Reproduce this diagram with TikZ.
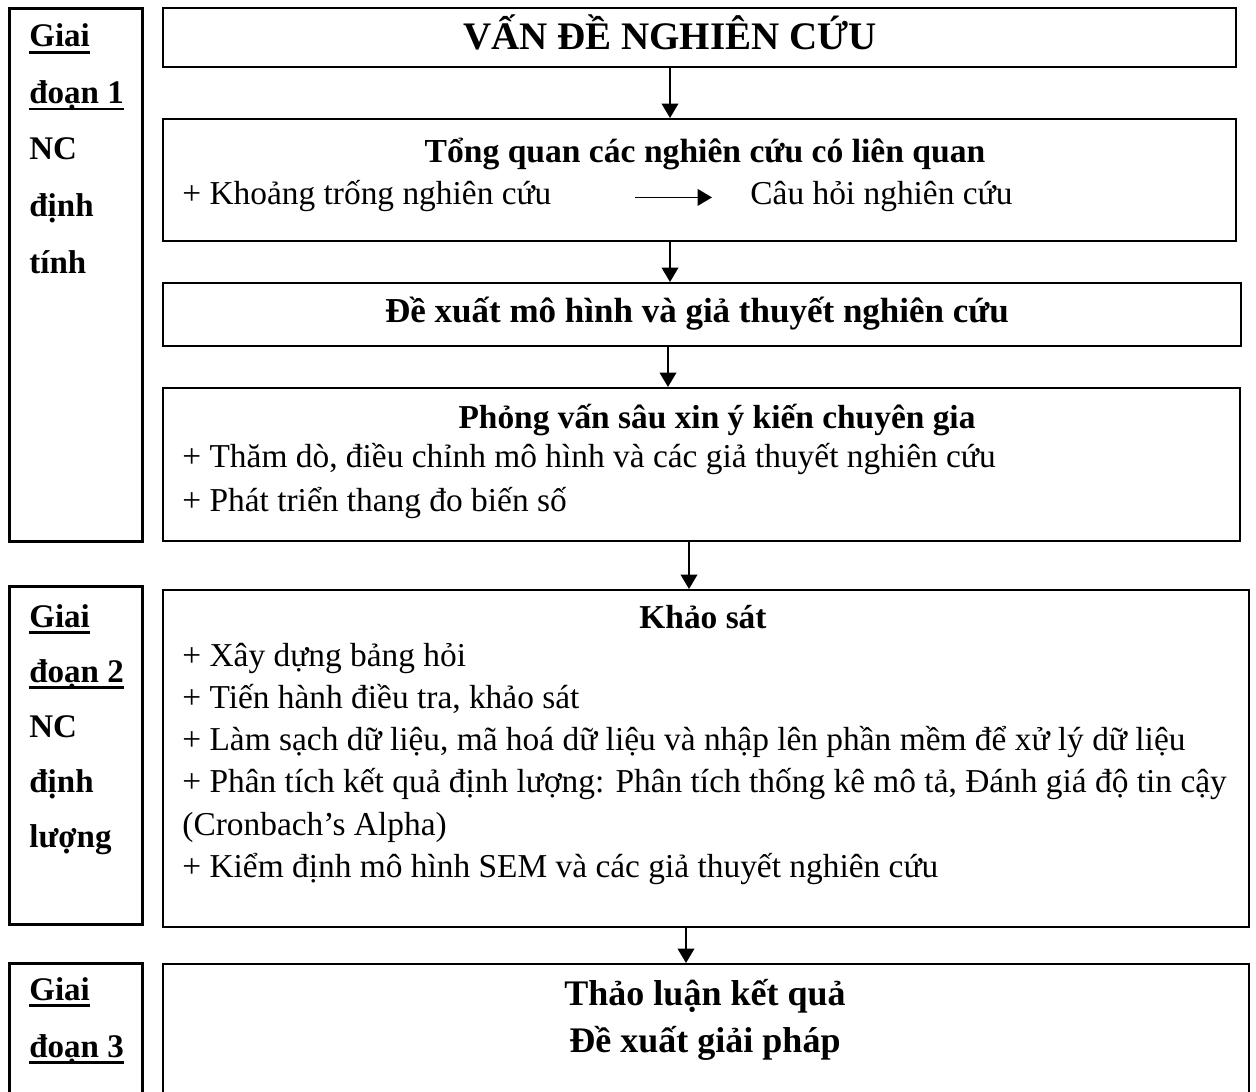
\documentclass[tikz,border=0pt]{standalone}
\usepackage{fontspec}
\setmainfont{Liberation Serif}
\usetikzlibrary{positioning,arrows.meta}
\newsavebox{\ulbox}
\newcommand{\stagul}[1]{\sbox{\ulbox}{#1}\rlap{\rule[-3.5pt]{\wd\ulbox}{1.4pt}}\usebox{\ulbox}}
\tikzset{
  mainbox/.style={draw,line width=1pt,inner sep=0,anchor=north west},
  stagebox/.style={draw,line width=1.3pt,inner sep=0,anchor=north west,minimum width=66.5pt},
  body/.style={inner sep=0,font=\fontsize{16.7}{20}\selectfont},
  head/.style={inner sep=0,font=\fontsize{#1}{20}\selectfont\bfseries},
  stagetxt/.style={inner sep=0,anchor=base west,font=\fontsize{16.5}{20}\selectfont\bfseries},
  flow/.style={line width=0.9pt,-{Triangle[width=8.3pt,length=7.2pt]}}
}

\begin{document}
\begin{tikzpicture}[x=0.5pt,y=-0.5pt]
\clip (0,0) rectangle (1256,1091);
\fill[white] (0,0) rectangle (1256,1091);
% stage columns
\node[stagebox,minimum height=266.5pt] (s1) at (8,7) {};
\node[stagebox,minimum height=169pt] (s2) at (8,585) {};
\node[stagebox,minimum height=75pt] (s3) at (8,962) {};
\foreach \t [count=\i from 0] in {\stagul{Giai},\stagul{đoạn 1},NC,định,tính}
  \node[stagetxt] (sa\i) at (29,47+56.5*\i) {\t};
\foreach \t [count=\i from 0] in {\stagul{Giai},\stagul{đoạn 2},NC,định,lượng}
  \node[stagetxt] (sb\i) at (29,627+55*\i) {\t};
\foreach \t [count=\i from 0] in {\stagul{Giai},\stagul{đoạn 3}}
  \node[stagetxt] (sc\i) at (29,1000+57*\i) {\t};
% main flow boxes
\node[mainbox,minimum width=536.5pt,minimum height=29.5pt] (b1) at (162,7) {};
\node[mainbox,minimum width=536.5pt,minimum height=61pt] (b2) at (162,118) {};
\node[mainbox,minimum width=539pt,minimum height=31.5pt] (b3) at (162,282) {};
\node[mainbox,minimum width=538.5pt,minimum height=76.5pt] (b4) at (162,387) {};
\node[mainbox,minimum width=543pt,minimum height=168.5pt] (b5) at (162,589) {};
\node[mainbox,minimum width=543pt,minimum height=75pt] (b6) at (162,963) {};
% texts
\node[head=19.5,anchor=base] (t1) at (670,50) {VẤN ĐỀ NGHIÊN CỨU};
\node[head=16.8,anchor=base] (t2) at (705,163) {Tổng quan các nghiên cứu có liên quan};
\node[body,anchor=base west] (kt) at (182,205) {+ Khoảng trống nghiên cứu};
\node[body,anchor=base west] (ch) at (750,205) {Câu hỏi nghiên cứu};
\node[head=17.5,anchor=base] (t3) at (697,322) {Đề xuất mô hình và giả thuyết nghiên cứu};
\node[head=16.7,anchor=base] (t4) at (717,428) {Phỏng vấn sâu xin ý kiến chuyên gia};
\foreach \t [count=\i from 0] in {{+ Thăm dò, điều chỉnh mô hình và các giả thuyết nghiên cứu},{+ Phát triển thang đo biến số}}
  \node[body,anchor=base west] (pv\i) at (182,467+44.5*\i) {\t};
\node[head=16.7,anchor=base] (t5) at (703,628) {Khảo sát};
\foreach \t [count=\i from 0] in {{+ Xây dựng bảng hỏi},{+ Tiến hành điều tra, khảo sát},{+ Làm sạch dữ liệu, mã hoá dữ liệu và nhập lên phần mềm để xử lý dữ liệu},{+ Phân tích kết quả định lượng: Phân tích thống kê mô tả, Đánh giá độ tin cậy},{(Cronbach’s Alpha)},{+ Kiểm định mô hình SEM và các giả thuyết nghiên cứu}}
  \node[body,anchor=base west] (ks\i) at (182,666+42.3*\i) {\t};
\node[head=18,anchor=base] (t6a) at (705,1005) {Thảo luận kết quả};
\node[head=18,anchor=base] (t6b) at (705,1052) {Đề xuất giải pháp};
% arrows
\coordinate (x1) at (670,0);
\coordinate (x3) at (668,0);
\coordinate (x4) at (689,0);
\coordinate (x5) at (686,0);
\coordinate (gl) at (635,0);
\coordinate (gr) at (712,0);
\draw[flow] (b1.south -| x1) -- (b2.north -| x1);
\draw[flow] (b2.south -| x1) -- (b3.north -| x1);
\draw[flow] (b3.south -| x3) -- (b4.north -| x3);
\draw[flow] (b4.south -| x4) -- (b5.north -| x4);
\draw[flow] (b5.south -| x5) -- (b6.north -| x5);
\draw[flow] ([yshift=1.5pt]kt.mid east -| gl) -- ([yshift=1.5pt]kt.mid east -| gr);
\end{tikzpicture}
\end{document}
